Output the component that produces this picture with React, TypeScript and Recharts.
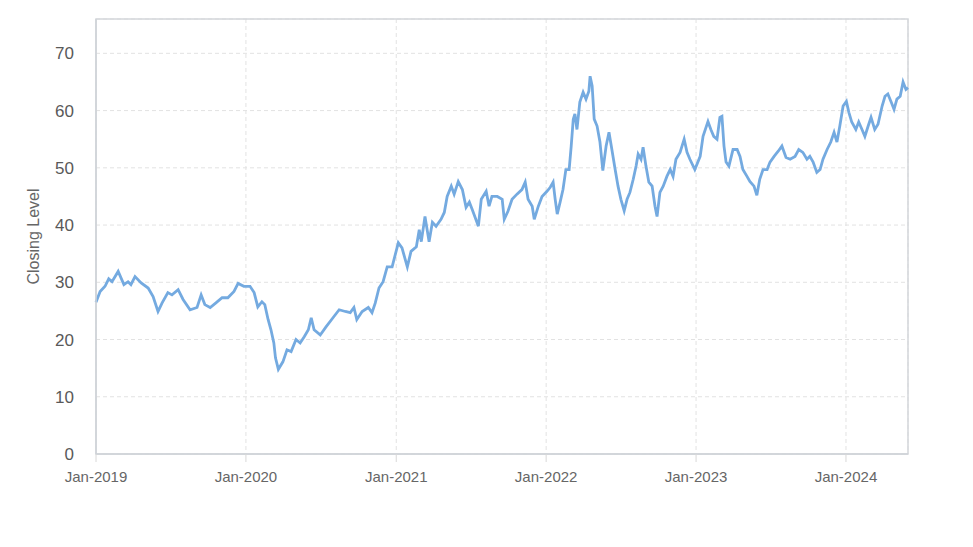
import { LineChart, Line, XAxis, YAxis, CartesianGrid, ReferenceArea } from "recharts";

// closing level (roughly every 1-2 weeks)
const dates = [
  "2019-01-01", "2019-01-11", "2019-01-23", "2019-02-01", "2019-02-09", "2019-02-24", "2019-03-10", "2019-03-20",
  "2019-03-27", "2019-04-06", "2019-04-21", "2019-05-08", "2019-05-20", "2019-06-01", "2019-06-11", "2019-06-25",
  "2019-07-05", "2019-07-20", "2019-08-01", "2019-08-18", "2019-09-04", "2019-09-14", "2019-09-23", "2019-10-06",
  "2019-10-20", "2019-11-04", "2019-11-18", "2019-12-03", "2019-12-13", "2019-12-27",
  "2020-01-11", "2020-01-21", "2020-01-30", "2020-02-09", "2020-02-16", "2020-02-24", "2020-03-02", "2020-03-09",
  "2020-03-13", "2020-03-20", "2020-03-31", "2020-04-10", "2020-04-20", "2020-05-02", "2020-05-12", "2020-05-22",
  "2020-06-01", "2020-06-08", "2020-06-15", "2020-06-30", "2020-07-14", "2020-07-31", "2020-08-15", "2020-08-30",
  "2020-09-11", "2020-09-20", "2020-09-27", "2020-10-10", "2020-10-25", "2020-11-03", "2020-11-11", "2020-11-20",
  "2020-11-30", "2020-12-10", "2020-12-22",
  "2021-01-06", "2021-01-15", "2021-01-28", "2021-02-06", "2021-02-19", "2021-02-26", "2021-03-03", "2021-03-12",
  "2021-03-22", "2021-03-30", "2021-04-08", "2021-04-20", "2021-04-28", "2021-05-05", "2021-05-15", "2021-05-22",
  "2021-06-01", "2021-06-11", "2021-06-20", "2021-06-28", "2021-07-05", "2021-07-20", "2021-07-27", "2021-08-08",
  "2021-08-15", "2021-08-22", "2021-09-04", "2021-09-16", "2021-09-21", "2021-09-30", "2021-10-10", "2021-10-22",
  "2021-11-03", "2021-11-11", "2021-11-18", "2021-11-28", "2021-12-03", "2021-12-13", "2021-12-22",
  "2022-01-03", "2022-01-11", "2022-01-18", "2022-01-23", "2022-01-28", "2022-02-04", "2022-02-11", "2022-02-18",
  "2022-02-26", "2022-03-03", "2022-03-08", "2022-03-12", "2022-03-17", "2022-03-24", "2022-04-01", "2022-04-08",
  "2022-04-15", "2022-04-18", "2022-04-23", "2022-04-28", "2022-05-05", "2022-05-12", "2022-05-19", "2022-05-27",
  "2022-06-03", "2022-06-10", "2022-06-18", "2022-06-25", "2022-07-02", "2022-07-10", "2022-07-17", "2022-07-24",
  "2022-08-01", "2022-08-08", "2022-08-13", "2022-08-20", "2022-08-25", "2022-09-01", "2022-09-08", "2022-09-16",
  "2022-09-23", "2022-09-28", "2022-10-05", "2022-10-13", "2022-10-22", "2022-10-30", "2022-11-06", "2022-11-13",
  "2022-11-23", "2022-12-03", "2022-12-10", "2022-12-17", "2022-12-29",
  "2023-01-11", "2023-01-18", "2023-01-30", "2023-02-06", "2023-02-13", "2023-02-21", "2023-02-28", "2023-03-05",
  "2023-03-10", "2023-03-15", "2023-03-22", "2023-04-01", "2023-04-11", "2023-04-18", "2023-04-25", "2023-05-05",
  "2023-05-12", "2023-05-22", "2023-05-29", "2023-06-05", "2023-06-13", "2023-06-23", "2023-06-30", "2023-07-10",
  "2023-07-20", "2023-07-29", "2023-08-08", "2023-08-18", "2023-08-30", "2023-09-08", "2023-09-18", "2023-09-28",
  "2023-10-05", "2023-10-13", "2023-10-22", "2023-10-30", "2023-11-06", "2023-11-16", "2023-11-25", "2023-12-03",
  "2023-12-10", "2023-12-17", "2023-12-25",
  "2024-01-02", "2024-01-08", "2024-01-15", "2024-01-25", "2024-02-01", "2024-02-09", "2024-02-16", "2024-02-24",
  "2024-03-02", "2024-03-11", "2024-03-19", "2024-03-29", "2024-04-05", "2024-04-12", "2024-04-20", "2024-04-27",
  "2024-05-04", "2024-05-12", "2024-05-19", "2024-05-26", "2024-05-31",
];

const closes = [
  26.5, 28.4, 29.3, 30.6, 30.1, 31.9, 29.6, 30.1,
  29.6, 31.0, 29.9, 29.0, 27.5, 24.9, 26.4, 28.2,
  27.8, 28.7, 27.0, 25.2, 25.6, 27.8, 26.1, 25.6,
  26.4, 27.3, 27.3, 28.4, 29.8, 29.3,
  29.3, 28.2, 25.7, 26.6, 26.1, 23.5, 21.7, 19.4,
  16.8, 14.8, 16.1, 18.2, 17.9, 20.0, 19.4, 20.5,
  21.7, 23.8, 21.7, 20.8, 22.2, 23.8, 25.2, 24.9,
  24.7, 25.6, 23.5, 24.9, 25.6, 24.7, 26.4, 29.0,
  30.1, 32.7, 32.7,
  36.9, 36.0, 32.7, 35.4, 36.2, 39.2, 37.1, 41.5,
  37.1, 40.5, 39.8, 41.0, 42.2, 45.0, 46.8, 45.4,
  47.6, 46.2, 43.1, 44.0, 42.7, 39.8, 44.5, 45.9,
  43.3, 45.0, 45.0, 44.5, 41.0, 42.4, 44.5, 45.4,
  46.2, 47.5, 44.5, 43.3, 41.0, 43.3, 45.0,
  45.9, 46.6, 47.5, 44.5, 41.9, 44.0, 46.2, 49.7,
  49.7, 53.8, 58.5, 59.4, 56.7, 61.5, 63.2, 62.0,
  63.4, 66.0, 64.3, 58.5, 57.3, 54.5, 49.5, 53.8,
  56.2, 53.2, 49.7, 46.8, 44.5, 42.5, 44.5, 45.7,
  48.0, 50.3, 52.4, 51.5, 53.6, 50.3, 47.5, 46.8,
  43.3, 41.5, 45.7, 46.8, 48.5, 49.7, 48.5, 51.5,
  52.7, 55.0, 52.7, 51.5, 49.7,
  52.0, 55.5, 58.1, 56.7, 55.5, 55.0, 58.8, 59.0,
  53.8, 51.0, 50.3, 53.2, 53.2, 52.0, 49.7, 48.5,
  47.6, 46.8, 45.2, 48.0, 49.7, 49.7, 51.0, 52.0,
  52.9, 53.8, 51.8, 51.5, 52.0, 53.2, 52.7, 51.5,
  52.0, 51.0, 49.2, 49.7, 51.5, 53.2, 54.5, 56.2,
  54.5, 57.3, 60.8,
  61.6, 59.7, 58.0, 56.7, 58.0, 56.7, 55.5, 57.3,
  58.8, 56.7, 57.6, 60.8, 62.5, 62.9, 61.5, 60.2,
  62.0, 62.5, 65.0, 63.7, 64.0,
];

const yearTicks = ["2019-01-01", "2020-01-01", "2021-01-01", "2022-01-01", "2023-01-01", "2024-01-01"];
const levelTicks = [0, 10, 20, 30, 40, 50, 60, 70];

const MONTHS = ["Jan", "Feb", "Mar", "Apr", "May", "Jun", "Jul", "Aug", "Sep", "Oct", "Nov", "Dec"];

const data = dates.map((d, i) => ({ t: Date.parse(d), close: closes[i] }));
const xStart = Date.parse("2019-01-01");
const xEnd = Date.parse("2024-05-31");
const yMax = 76;

const fmtDate = (t: number) => {
  const d = new Date(t);
  return `${MONTHS[d.getUTCMonth()]}-${d.getUTCFullYear()}`;
};

const FONT = "Arial, 'Liberation Sans', sans-serif";

export default function App() {
  return (
    <div style={{ position: "absolute", left: 0, top: 0, width: 973, height: 547, background: "#fff" }}>
      <LineChart width={973} height={547} data={data} margin={{ top: 19, right: 65, bottom: 63, left: 0 }}>
        <CartesianGrid stroke="#e2e2e2" strokeDasharray="4 3" />
        <ReferenceArea
          x1={xStart}
          x2={xEnd}
          y1={0}
          y2={yMax}
          fill="none"
          stroke="#d3d6da"
          strokeWidth={1.5}
          ifOverflow="visible"
        />
        <XAxis
          dataKey="t"
          type="number"
          domain={[xStart, xEnd]}
          ticks={yearTicks.map((d) => Date.parse(d))}
          tickFormatter={fmtDate}
          height={30}
          tickSize={8}
          tickMargin={9}
          axisLine={{ stroke: "#cfd3d8", strokeWidth: 1.5 }}
          tickLine={{ stroke: "#d8d8d8" }}
          tick={{ fontSize: 15, fill: "#666", fontFamily: FONT }}
        />
        <YAxis
          type="number"
          domain={[0, yMax]}
          ticks={levelTicks}
          width={96}
          tickSize={0}
          tickMargin={22}
          axisLine={{ stroke: "#cfd3d8", strokeWidth: 1.5 }}
          tickLine={false}
          tick={{ fontSize: 17, fill: "#595959", fontFamily: FONT }}
          label={{
            content: (props: any) => {
              const vb = props.viewBox || { x: 0, y: 19, height: 435 };
              const cx = vb.x + 33;
              const cy = vb.y + vb.height / 2;
              return (
                <text
                  x={cx}
                  y={cy}
                  transform={`rotate(-90 ${cx} ${cy})`}
                  textAnchor="middle"
                  dominantBaseline="central"
                  fontSize={16}
                  fill="#666"
                  fontFamily={FONT}
                >
                  Closing Level
                </text>
              );
            },
          }}
        />
        <Line
          type="linear"
          dataKey="close"
          stroke="#74aae0"
          strokeWidth={2.8}
          dot={false}
          isAnimationActive={false}
        />
      </LineChart>
    </div>
  );
}
